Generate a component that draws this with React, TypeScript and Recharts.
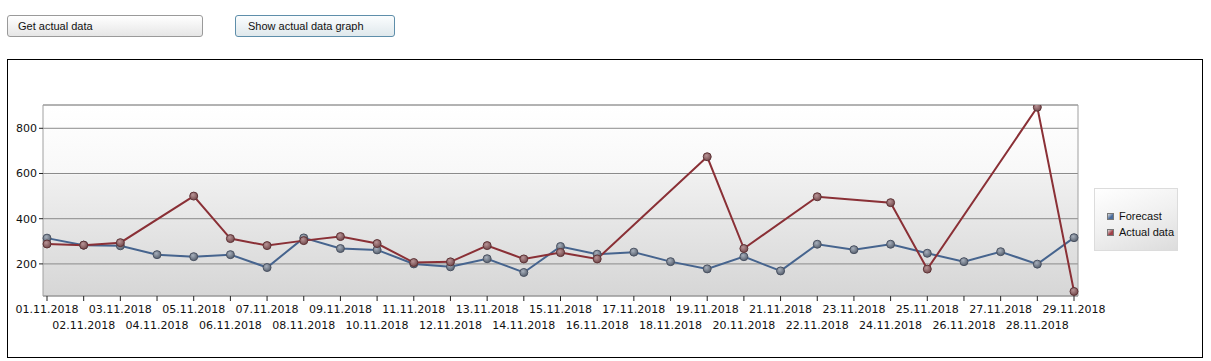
import React from "react";
import {
  LineChart,
  Line,
  XAxis,
  YAxis,
  CartesianGrid,
  Legend,
  ReferenceLine,
} from "recharts";

const DATES = [
  "01.11.2018", "02.11.2018", "03.11.2018", "04.11.2018", "05.11.2018",
  "06.11.2018", "07.11.2018", "08.11.2018", "09.11.2018", "10.11.2018",
  "11.11.2018", "12.11.2018", "13.11.2018", "14.11.2018", "15.11.2018",
  "16.11.2018", "17.11.2018", "18.11.2018", "19.11.2018", "20.11.2018",
  "21.11.2018", "22.11.2018", "23.11.2018", "24.11.2018", "25.11.2018",
  "26.11.2018", "27.11.2018", "28.11.2018", "29.11.2018",
];

const FORECAST = [
  314, 283, 280, 241, 232, 241, 184, 315, 268, 262,
  200, 187, 223, 162, 277, 243, 252, 210, 178, 232,
  169, 287, 263, 287, 247, 210, 254, 199, 316,
];

// null = no actual value that day (line is drawn straight across)
const ACTUAL: (number | null)[] = [
  288, 283, 294, null, 500, 312, 281, 303, 321, 290,
  206, 209, 281, 222, 250, 222, null, null, 674, 268,
  null, 497, null, 471, 177, null, null, 893, 78,
];

const Y_DOMAIN: [number, number] = [58, 903];
const Y_TICKS = [200, 400, 600, 800];

const SERIES = [
  { key: "forecast", label: "Forecast", color: "#46648e", dot: "url(#dotBlue)", dotStroke: "#4a5262", swatch: "#4a6c9c" },
  { key: "actual", label: "Actual data", color: "#8a3036", dot: "url(#dotRed)", dotStroke: "#5e3336", swatch: "#a04048" },
];

const data = DATES.map((d, i) => ({ date: d, forecast: FORECAST[i], actual: ACTUAL[i] }));

const FONT = "'DejaVu Sans', Verdana, sans-serif";
const UI_FONT = "'Liberation Sans', Arial, sans-serif";

function DateTick(props: any) {
  const { x, y, payload } = props;
  const idx = payload?.index ?? props.index ?? 0;
  return (
    <text
      x={x}
      y={y + (idx % 2 === 0 ? 12 : 28)}
      textAnchor="middle"
      fontFamily={FONT}
      fontSize={11}
      fill="#111"
    >
      {payload.value}
    </text>
  );
}

function LegendBox() {
  return (
    <div
      style={{
        width: 84,
        height: 63,
        boxSizing: "border-box",
        border: "1px solid #dcdcdc",
        background: "linear-gradient(160deg, #ffffff 0%, #f0f0f0 50%, #dcdcdc 100%)",
        paddingTop: 19,
        paddingLeft: 12,
        fontFamily: UI_FONT,
        fontSize: 11,
        color: "#111",
        textAlign: "left",
      }}
    >
      {SERIES.map((s) => (
        <div key={s.key} style={{ display: "flex", alignItems: "center", height: 16 }}>
          <span
            style={{
              display: "inline-block",
              width: 7,
              height: 7,
              marginRight: 5,
              background: `linear-gradient(135deg, #ddd 0%, ${s.swatch} 60%)`,
              border: "1px solid #777",
              boxSizing: "border-box",
            }}
          />
          {s.label}
        </div>
      ))}
    </div>
  );
}

const btnBase: React.CSSProperties = {
  position: "absolute",
  top: 15,
  height: 22,
  boxSizing: "border-box",
  borderRadius: 3,
  fontFamily: UI_FONT,
  fontSize: 11,
  color: "#111",
  textAlign: "left",
  lineHeight: "20px",
  padding: "0 0 0 10px",
};

export default function App() {
  return (
    <div style={{ position: "absolute", left: 0, top: 0, width: 1211, height: 361, background: "#fff", overflow: "hidden" }}>
      <div
        style={{
          ...btnBase,
          left: 7,
          width: 196,
          border: "1px solid #9a9a9a",
          background: "linear-gradient(#ffffff, #e6e6e6)",
        }}
      >
        Get actual data
      </div>
      <div
        style={{
          ...btnBase,
          left: 235,
          width: 160,
          paddingLeft: 12,
          border: "1px solid #5e8eaa",
          background: "linear-gradient(#fbfdfe, #dfe8ec)",
        }}
      >
        Show actual data graph
      </div>

      <div
        style={{
          position: "absolute",
          left: 7,
          top: 59,
          width: 1196,
          height: 299,
          boxSizing: "border-box",
          border: "1px solid #000",
        }}
      />

      <div style={{ position: "absolute", left: 0, top: 0 }}>
        <LineChart
          width={1211}
          height={361}
          data={data}
          margin={{ top: 105, right: 132, bottom: 25, left: 8 }}
        >
          <defs>
            <linearGradient id="plotBg" x1="0" y1="0" x2="0" y2="1">
              <stop offset="0%" stopColor="#ffffff" />
              <stop offset="36%" stopColor="#f8f8f8" />
              <stop offset="37%" stopColor="#f0f0f0" />
              <stop offset="100%" stopColor="#d6d6d6" />
            </linearGradient>
            <radialGradient id="dotBlue" cx="40%" cy="35%" r="65%">
              <stop offset="0%" stopColor="#a8b0bc" />
              <stop offset="100%" stopColor="#58616f" />
            </radialGradient>
            <radialGradient id="dotRed" cx="40%" cy="35%" r="65%">
              <stop offset="0%" stopColor="#b89496" />
              <stop offset="100%" stopColor="#744a4d" />
            </radialGradient>
          </defs>
          <CartesianGrid
            yAxisId="l"
            vertical={false}
            stroke="#8a8a8a"
            fill="url(#plotBg)"
            fillOpacity={1}
          />
          <XAxis
            dataKey="date"
            interval={0}
            padding={{ left: 4, right: 4 }}
            height={40}
            axisLine={{ stroke: "#a0a0a0" }}
            tickLine={{ stroke: "#222" }}
            tickSize={5}
            tickMargin={0}
            tick={<DateTick />}
          />
          <YAxis
            yAxisId="l"
            width={35}
            domain={Y_DOMAIN}
            ticks={Y_TICKS}
            allowDataOverflow
            axisLine={{ stroke: "#a0a0a0" }}
            tickLine={{ stroke: "#222" }}
            tickSize={4}
            tickMargin={2}
            tick={{ fontFamily: FONT, fontSize: 11, fill: "#111" }}
          />
          <YAxis
            yAxisId="r"
            orientation="right"
            width={1}
            domain={Y_DOMAIN}
            tick={false}
            tickLine={false}
            axisLine={{ stroke: "#a0a0a0" }}
          />
          <ReferenceLine yAxisId="l" y={Y_DOMAIN[1]} stroke="#a0a0a0" />
          {SERIES.map((s) => (
            <Line
              key={s.key}
              yAxisId="l"
              type="linear"
              dataKey={s.key}
              name={s.label}
              stroke={s.color}
              strokeWidth={2}
              connectNulls
              dot={{ r: 4, fill: s.dot, stroke: s.dotStroke, strokeWidth: 1, fillOpacity: 1 }}
              activeDot={false}
              isAnimationActive={false}
            />
          ))}
          <Legend
            layout="horizontal"
            verticalAlign="middle"
            align="center"
            content={() => <LegendBox />}
            wrapperStyle={{ position: "absolute", left: 1094, top: 188, width: 84, height: 63 }}
          />
        </LineChart>
      </div>
    </div>
  );
}
